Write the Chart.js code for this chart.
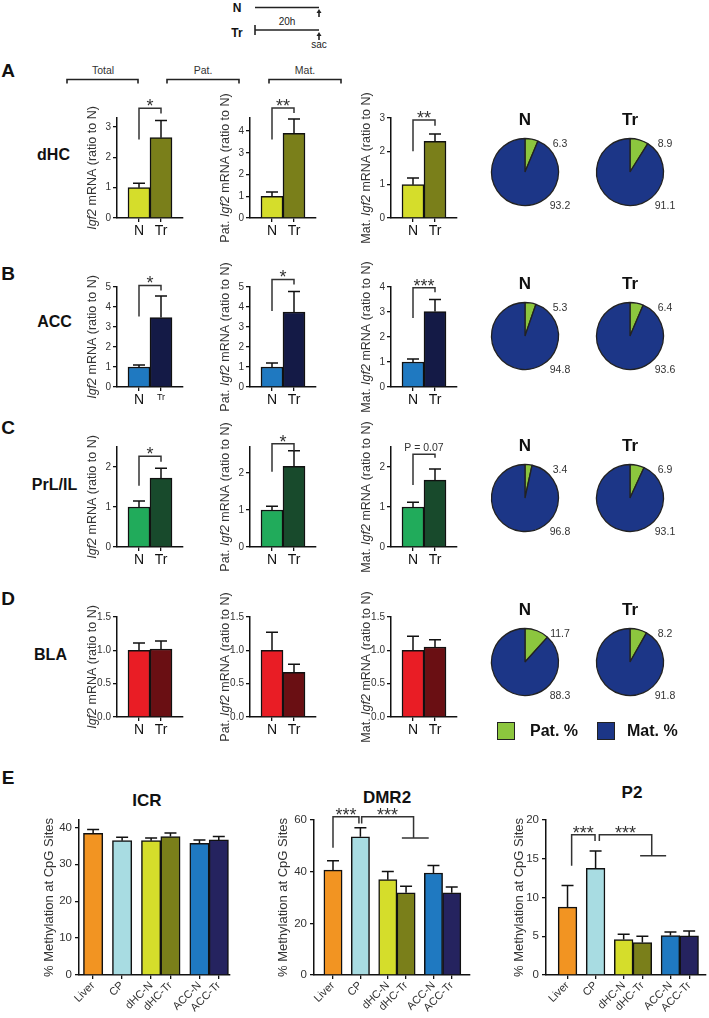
<!DOCTYPE html>
<html lang="en">
<head>
<meta charset="UTF-8">
<title>Igf2 expression and methylation</title>
<script src="https://cdn.jsdelivr.net/npm/chart.js@4.4.1/dist/chart.umd.min.js"></script>
<style>
  body { margin: 0; background: #fff; font-family: Arial, "Liberation Sans", sans-serif; color: #111; }
  #fig { position: relative; width: 709px; height: 1018px; overflow: hidden; background: #fff; }
  .t { position: absolute; white-space: nowrap; transform: translate(-50%, -50%); line-height: 1; }
  .letter { font-weight: bold; font-size: 19px; }
  .region { font-weight: bold; font-size: 16px; }
  .head { font-size: 10.5px; color: #333; }
  .small { font-size: 10px; color: #222; }
  .tl { font-weight: bold; font-size: 12px; }
  .sub { font-weight: bold; font-size: 17px; }
  canvas { position: absolute; }
  .key { position: absolute; width: 16px; height: 16px; border: 1.5px solid #222; }
  .keytxt { position: absolute; font-weight: bold; font-size: 16px; white-space: nowrap; transform: translateY(-50%); }
</style>
</head>
<body>
<div id="fig">
  <!-- timeline + column brackets -->
  <svg style="position:absolute;left:0;top:0" width="709" height="100">
    <g stroke="#222" stroke-width="1.6" fill="none">
      <line x1="255" y1="7.5" x2="319" y2="7.5"/>
      <line x1="319" y1="17" x2="319" y2="12"/>
      <line x1="255" y1="30" x2="319" y2="30"/>
      <line x1="255" y1="25" x2="255" y2="35"/>
      <line x1="319" y1="40" x2="319" y2="35"/>
      <path d="M67 83.5 V79.5 H138 V83.5"/>
      <path d="M167 83.5 V79.5 H239 V83.5"/>
      <path d="M269 83.5 V79.5 H341 V83.5"/>
    </g>
    <path d="M316.5 13 L319 9 L321.5 13 Z" fill="#222"/>
    <path d="M316.5 36 L319 32 L321.5 36 Z" fill="#222"/>
  </svg>
</div>

<script>
// ---- data: Igf2 mRNA (ratio to N), mean and SEM ----
const groups = ['N', 'Tr'];

const dhcTotal = [1.0, 2.65], dhcTotalSem = [0.15, 0.57];
const dhcPat = [1.0, 3.9], dhcPatSem = [0.2, 0.65];
const dhcMat = [1.0, 2.3], dhcMatSem = [0.2, 0.22];

const accTotal = [1.0, 3.47], accTotalSem = [0.1, 1.08];
const accPat = [1.0, 3.75], accPatSem = [0.2, 1.03];
const accMat = [1.0, 3.02], accMatSem = [0.12, 0.48];

const prlTotal = [1.0, 1.72], prlTotalSem = [0.15, 0.25];
const prlPat = [1.0, 2.18], prlPatSem = [0.1, 0.42];
const prlMat = [1.0, 1.67], prlMatSem = [0.12, 0.28];

const blaTotal = [1.0, 1.02], blaTotalSem = [0.11, 0.12];
const blaPat = [1.0, 0.67], blaPatSem = [0.27, 0.12];
const blaMat = [1.0, 1.05], blaMatSem = [0.21, 0.11];

// allelic share (%)
const pieLabels = ['Pat. %', 'Mat. %'];
const dhcPieN = [6.3, 93.2], dhcPieTr = [8.9, 91.1];
const accPieN = [5.3, 94.8], accPieTr = [6.4, 93.6];
const prlPieN = [3.4, 96.8], prlPieTr = [6.9, 93.1];
const blaPieN = [11.7, 88.3], blaPieTr = [8.2, 91.8];

// panel E: % methylation at CpG sites
const sites = ['Liver', 'CP', 'dHC-N', 'dHC-Tr', 'ACC-N', 'ACC-Tr'];
const icr = [38.4, 36.4, 36.4, 37.5, 35.7, 36.6], icrSem = [1.0, 0.9, 0.7, 0.95, 0.9, 0.9];
const dmr2 = [40.6, 53.5, 36.9, 31.8, 39.5, 31.8], dmr2Sem = [3.6, 3.5, 3.2, 2.6, 2.9, 2.3];
const p2 = [8.76, 13.76, 4.57, 4.19, 5.09, 5.04], p2Sem = [2.8, 2.24, 0.69, 0.81, 0.47, 0.64];

// ---- styles / layout ----
const rowColors = {
  dhc: ['#d5dd2b', '#7a7f1a'],
  acc: ['#1f79c1', '#141a46'],
  prl: ['#21ab5b', '#184a2c'],
  bla: ['#e91d25', '#6a0f13']
};
const pieColors = ['#8cc63e', '#1c3687'];
const siteColors = ['#f29422', '#a8dce2', '#d5dd2b', '#7a7f1a', '#1f79c1', '#25235f'];
const siteSlots = [0, 1.5, 3, 4, 5.5, 6.5];   // x position of each bar (pairs touch)
const cols = [117, 250, 391];
const yTitles = [
  [['', false], ['Igf2', true], [' mRNA (ratio to N)', false]],
  [['Pat. ', false], ['Igf2', true], [' mRNA (ratio to N)', false]],
  [['Mat. ', false], ['Igf2', true], [' mRNA (ratio to N)', false]]
];
const eTitle = [['% Methylation at CpG Sites', false]];

const fig = document.getElementById('fig');

function txt(text, x, y, cls) {
  const d = document.createElement('div');
  d.className = 't ' + cls;
  d.textContent = text;
  d.style.left = x + 'px';
  d.style.top = y + 'px';
  fig.appendChild(d);
}

function addCanvas(left, top, w, h) {
  const c = document.createElement('canvas');
  c.width = w; c.height = h;
  c.style.left = left + 'px'; c.style.top = top + 'px';
  c.style.width = w + 'px'; c.style.height = h + 'px';
  fig.appendChild(c);
  return c;
}

// ---- plugins ----
const errorBars = {
  id: 'errorBars',
  afterDatasetsDraw(chart, args, opts) {
    if (!opts.sem) return;
    const ctx = chart.ctx, xs = chart.scales.x, ys = chart.scales.y;
    ctx.save();
    ctx.strokeStyle = '#111';
    ctx.lineWidth = 1.5;
    chart.data.datasets[0].data.forEach((p, i) => {
      const x = xs.getPixelForValue(p.x);
      const yb = ys.getPixelForValue(p.y), yt = ys.getPixelForValue(p.y + opts.sem[i]);
      ctx.beginPath();
      ctx.moveTo(x, yb); ctx.lineTo(x, yt);
      ctx.moveTo(x - opts.cap / 2, yt); ctx.lineTo(x + opts.cap / 2, yt);
      ctx.stroke();
    });
    ctx.restore();
  }
};

const brackets = {
  id: 'brackets',
  afterDraw(chart, args, opts) {
    if (!opts.items) return;
    const ctx = chart.ctx, xs = chart.scales.x, ys = chart.scales.y;
    ctx.save();
    ctx.strokeStyle = '#333'; ctx.fillStyle = '#333'; ctx.lineWidth = 1.5;
    opts.items.forEach(b => {
      const x1 = xs.getPixelForValue(b.x1), x2 = xs.getPixelForValue(b.x2);
      const yt = ys.getPixelForValue(b.top);
      ctx.beginPath();
      ctx.moveTo(x1, ys.getPixelForValue(b.left));
      ctx.lineTo(x1, yt); ctx.lineTo(x2, yt);
      ctx.lineTo(x2, ys.getPixelForValue(b.right));
      if (b.bar) {
        const yr = ys.getPixelForValue(b.right);
        ctx.moveTo(xs.getPixelForValue(b.bar[0]), yr);
        ctx.lineTo(xs.getPixelForValue(b.bar[1]), yr);
      }
      ctx.stroke();
      const star = /^\*+$/.test(b.text);
      ctx.font = star ? '18px Arial, "Liberation Sans"' : '10.5px Arial, "Liberation Sans"';
      ctx.textAlign = 'center';
      ctx.textBaseline = 'alphabetic';
      ctx.fillText(b.text, (x1 + x2) / 2, star ? yt + 4 : yt - 3);
    });
    ctx.restore();
  }
};

const yTitle = {
  id: 'yTitle',
  afterDraw(chart, args, opts) {
    if (!opts.parts) return;
    const ctx = chart.ctx, a = chart.chartArea;
    ctx.save();
    ctx.translate(a.left - opts.offset, (a.top + a.bottom) / 2);
    ctx.rotate(-Math.PI / 2);
    ctx.fillStyle = '#333';
    ctx.textBaseline = 'middle';
    ctx.textAlign = 'left';
    const fonts = opts.parts.map(p => (p[1] ? 'italic ' : '') + opts.size + 'px Arial, "Liberation Sans"');
    const widths = opts.parts.map((p, i) => { ctx.font = fonts[i]; return ctx.measureText(p[0]).width; });
    let x = -widths.reduce((s, w) => s + w, 0) / 2;
    opts.parts.forEach((p, i) => { ctx.font = fonts[i]; ctx.fillText(p[0], x, 0); x += widths[i]; });
    ctx.restore();
  }
};

const pieValues = {
  id: 'pieValues',
  afterDraw(chart, args, opts) {
    if (!opts.title) return;
    const ctx = chart.ctx;
    const arc = chart.getDatasetMeta(0).data[0];
    const vals = chart.data.datasets[0].data;
    ctx.save();
    ctx.textAlign = 'center';
    ctx.textBaseline = 'middle';
    ctx.fillStyle = '#111';
    ctx.font = 'bold 17px Arial, "Liberation Sans"';
    ctx.fillText(opts.title, arc.x, arc.y - 52);
    ctx.fillStyle = '#333';
    ctx.font = '10.5px Arial, "Liberation Sans"';
    ctx.fillText(vals[0].toFixed(1), arc.x + arc.outerRadius + 1.5, arc.y - 28);
    ctx.fillText(vals[1].toFixed(1), arc.x + arc.outerRadius + 1.5, arc.y + 34);
    ctx.restore();
  }
};

Chart.register(errorBars, brackets, yTitle, pieValues);
Chart.defaults.font.family = 'Arial, "Liberation Sans", sans-serif';
Chart.defaults.color = '#333';

const axisLine = { color: '#111', width: 1.5 };
const tickGrid = { drawOnChartArea: false, tickLength: 4, color: '#111', lineWidth: 1.3, offset: false };

// ticks at 0, step, 2*step ... up to max
function stepTicks(max, step) {
  return s => {
    const t = [];
    for (let i = 0; i * step <= max + 1e-9; i++) t.push({ value: +(i * step).toFixed(6) });
    s.ticks = t;
  };
}

// small N / Tr bar chart
function barChart(cfg) {
  const padTop = 30, axisW = 40, axisH = 26, plotW = 66, plotH = 100, padR = 6;
  const axisX = cols[cfg.col];
  const c = addCanvas(axisX - axisW, cfg.y0 - plotH - padTop, axisW + plotW + padR, padTop + plotH + axisH);
  new Chart(c, {
    type: 'bar',
    data: {
      datasets: [{
        data: cfg.values.map((v, i) => ({ x: i, y: v })),
        backgroundColor: cfg.colors,
        borderColor: '#111',
        borderWidth: 1.5,
        barPercentage: 1,
        categoryPercentage: 1
      }]
    },
    options: {
      responsive: false,
      animation: false,
      layout: { padding: { top: padTop, right: padR, left: 0, bottom: 0 } },
      plugins: {
        legend: { display: false },
        tooltip: { enabled: false },
        errorBars: { sem: cfg.sem, cap: 12 },
        brackets: { items: cfg.brackets },
        yTitle: { parts: yTitles[cfg.col], size: 12.5, offset: 24 }
      },
      scales: {
        x: {
          type: 'linear', min: -1, max: 2, offset: false,
          afterBuildTicks: s => { s.ticks = groups.map((g, i) => ({ value: i })); },
          afterFit: s => { s.height = axisH; },
          ticks: {
            autoSkip: false, maxRotation: 0, padding: 1, color: '#111',
            callback: v => groups[v],
            font: ctx => ({ size: (cfg.smallTr && ctx.index === 1) ? 9 : 14 })
          },
          grid: tickGrid,
          border: axisLine
        },
        y: {
          min: 0, max: cfg.max,
          afterBuildTicks: stepTicks(cfg.max, cfg.step),
          afterFit: s => { s.width = axisW; },
          ticks: {
            autoSkip: false, padding: 2, color: '#333', font: { size: 10 },
            callback: v => cfg.step < 1 ? v.toFixed(1) : String(v)
          },
          grid: tickGrid,
          border: axisLine
        }
      }
    }
  });
}

// methylation chart (panel E)
function siteChart(cfg) {
  const padTop = 25, axisW = 48, axisH = 45, padR = 8, plotTop = 820, plotBottom = 975;
  const c = addCanvas(cfg.axisX - axisW, plotTop - padTop, axisW + cfg.plotW + padR, padTop + (plotBottom - plotTop) + axisH);
  new Chart(c, {
    type: 'bar',
    data: {
      datasets: [{
        data: cfg.values.map((v, i) => ({ x: siteSlots[i], y: v })),
        backgroundColor: siteColors,
        borderColor: '#111',
        borderWidth: 1.5,
        barPercentage: 1,
        categoryPercentage: 1
      }]
    },
    options: {
      responsive: false,
      animation: false,
      layout: { padding: { top: padTop, right: padR, left: 0, bottom: 0 } },
      plugins: {
        legend: { display: false },
        tooltip: { enabled: false },
        errorBars: { sem: cfg.sem, cap: 12 },
        brackets: { items: cfg.brackets },
        yTitle: { parts: eTitle, size: 13, offset: cfg.titleOffset }
      },
      scales: {
        x: {
          type: 'linear', min: cfg.xMin, max: cfg.xMax, offset: false,
          afterBuildTicks: s => { s.ticks = siteSlots.map(v => ({ value: v })); },
          afterFit: s => { s.height = axisH; },
          ticks: {
            autoSkip: false, minRotation: 45, maxRotation: 45, padding: 0, color: '#333',
            font: { size: 11 },
            callback: v => sites[siteSlots.indexOf(v)]
          },
          grid: tickGrid,
          border: axisLine
        },
        y: {
          min: 0, max: cfg.max,
          afterBuildTicks: stepTicks(cfg.max, cfg.step),
          afterFit: s => { s.width = axisW; },
          ticks: { autoSkip: false, padding: 3, color: '#333', font: { size: 11.5 }, callback: v => String(v) },
          grid: tickGrid,
          border: axisLine
        }
      }
    }
  });
}

function pieChart(cx, cy, title, values) {
  const c = addCanvas(cx - 60, cy - 70, 120, 140);
  new Chart(c, {
    type: 'pie',
    data: {
      labels: pieLabels,
      datasets: [{ data: values, backgroundColor: pieColors, borderColor: '#222', borderWidth: 1.3 }]
    },
    options: {
      responsive: false,
      animation: false,
      radius: 33.5,
      plugins: { legend: { display: false }, tooltip: { enabled: false }, pieValues: { title } }
    }
  });
}

// ---- texts ----
txt('N', 237, 7.5, 'tl');
txt('Tr', 237, 32.5, 'tl');
txt('20h', 287, 21.5, 'small');
txt('sac', 319, 45, 'small');
txt('Total', 103, 70, 'head');
txt('Pat.', 203, 70, 'head');
txt('Mat.', 305, 70, 'head');
[['A', 70], ['B', 273], ['C', 427], ['D', 598], ['E', 777]].forEach(l => txt(l[0], 8, l[1], 'letter'));
txt('dHC', 53.5, 155, 'region');
txt('ACC', 54.5, 322, 'region');
txt('PrL/IL', 54.5, 485, 'region');
txt('BLA', 50.5, 655, 'region');
txt('ICR', 147, 800, 'sub');
txt('DMR2', 387, 797, 'sub');
txt('P2', 632, 792, 'sub');

// ---- panels A-D ----
barChart({ col: 0, y0: 217.7, values: dhcTotal, sem: dhcTotalSem, colors: rowColors.dhc, max: 3.3, step: 1,
  brackets: [{ x1: 0, x2: 1, top: 3.62, left: 2.59, right: 3.45, text: '*' }] });
barChart({ col: 1, y0: 217.7, values: dhcPat, sem: dhcPatSem, colors: rowColors.dhc, max: 4.6, step: 1,
  brackets: [{ x1: 0, x2: 1, top: 5.06, left: 3.61, right: 4.83, text: '**' }] });
barChart({ col: 2, y0: 217.7, values: dhcMat, sem: dhcMatSem, colors: rowColors.dhc, max: 3, step: 1,
  brackets: [{ x1: 0, x2: 1, top: 2.94, left: 2.0, right: 2.77, text: '**' }] });

barChart({ col: 0, y0: 386.7, values: accTotal, sem: accTotalSem, colors: rowColors.acc, max: 5, step: 1, smallTr: true,
  brackets: [{ x1: 0, x2: 1, top: 5.08, left: 3.53, right: 4.83, text: '*' }] });
barChart({ col: 1, y0: 386.7, values: accPat, sem: accPatSem, colors: rowColors.acc, max: 5, step: 1,
  brackets: [{ x1: 0, x2: 1, top: 5.38, left: 3.8, right: 5.13, text: '*' }] });
barChart({ col: 2, y0: 386.7, values: accMat, sem: accMatSem, colors: rowColors.acc, max: 4, step: 1,
  brackets: [{ x1: 0, x2: 1, top: 3.97, left: 2.76, right: 3.79, text: '***' }] });

barChart({ col: 0, y0: 547.3, values: prlTotal, sem: prlTotalSem, colors: rowColors.prl, max: 2.5, step: 1,
  brackets: [{ x1: 0, x2: 1, top: 2.27, left: 1.53, right: 2.13, text: '*' }] });
barChart({ col: 1, y0: 547.3, values: prlPat, sem: prlPatSem, colors: rowColors.prl, max: 2.7, step: 1,
  brackets: [{ x1: 0, x2: 1, top: 2.79, left: 2.03, right: 2.6, text: '*' }] });
barChart({ col: 2, y0: 547.3, values: prlMat, sem: prlMatSem, colors: rowColors.prl, max: 2.5, step: 1,
  brackets: [{ x1: 0, x2: 1, top: 2.32, left: 1.55, right: 2.23, text: 'P = 0.07' }] });

barChart({ col: 0, y0: 717.3, values: blaTotal, sem: blaTotalSem, colors: rowColors.bla, max: 1.5, step: 0.5 });
barChart({ col: 1, y0: 717.3, values: blaPat, sem: blaPatSem, colors: rowColors.bla, max: 1.5, step: 0.5 });
barChart({ col: 2, y0: 717.3, values: blaMat, sem: blaMatSem, colors: rowColors.bla, max: 1.5, step: 0.5 });

// pies
pieChart(525, 171.7, 'N', dhcPieN);   pieChart(629.5, 171.7, 'Tr', dhcPieTr);
pieChart(525, 336, 'N', accPieN);     pieChart(629.5, 336, 'Tr', accPieTr);
pieChart(525, 498.3, 'N', prlPieN);   pieChart(629.5, 498.3, 'Tr', prlPieTr);
pieChart(525, 662, 'N', blaPieN);     pieChart(629.5, 662, 'Tr', blaPieTr);

// pie legend
pieLabels.forEach((lab, i) => {
  const sq = document.createElement('div');
  sq.className = 'key';
  sq.style.left = (497 + i * 100) + 'px';
  sq.style.top = '722px';
  sq.style.background = pieColors[i];
  fig.appendChild(sq);
  const t = document.createElement('div');
  t.className = 'keytxt';
  t.textContent = lab;
  t.style.left = (530 + i * 97) + 'px';
  t.style.top = '731px';
  fig.appendChild(t);
});

// ---- panel E ----
siteChart({ axisX: 79.3, plotW: 151, xMin: -0.73, xMax: 7.08, values: icr, sem: icrSem, max: 42, step: 10, titleOffset: 30 });
siteChart({ axisX: 314, plotW: 156, xMin: -1.04, xMax: 7.5, values: dmr2, sem: dmr2Sem, max: 60, step: 20, titleOffset: 31,
  brackets: [
    { x1: 0, x2: 1.42, top: 61.3, left: 49.3, right: 58.6, text: '***' },
    { x1: 1.57, x2: 4.41, top: 61.3, left: 58.6, right: 53, text: '***', bar: [3.77, 5.24] }
  ] });
siteChart({ axisX: 546, plotW: 160, xMin: -1.15, xMax: 7.4, values: p2, sem: p2Sem, max: 20, step: 5, titleOffset: 27,
  brackets: [
    { x1: 0.22, x2: 1.47, top: 18.1, left: 14.1, right: 17.3, text: '***' },
    { x1: 1.7, x2: 4.5, top: 18.1, left: 17.3, right: 15.4, text: '***', bar: [3.88, 5.27] }
  ] });
</script>
</body>
</html>
